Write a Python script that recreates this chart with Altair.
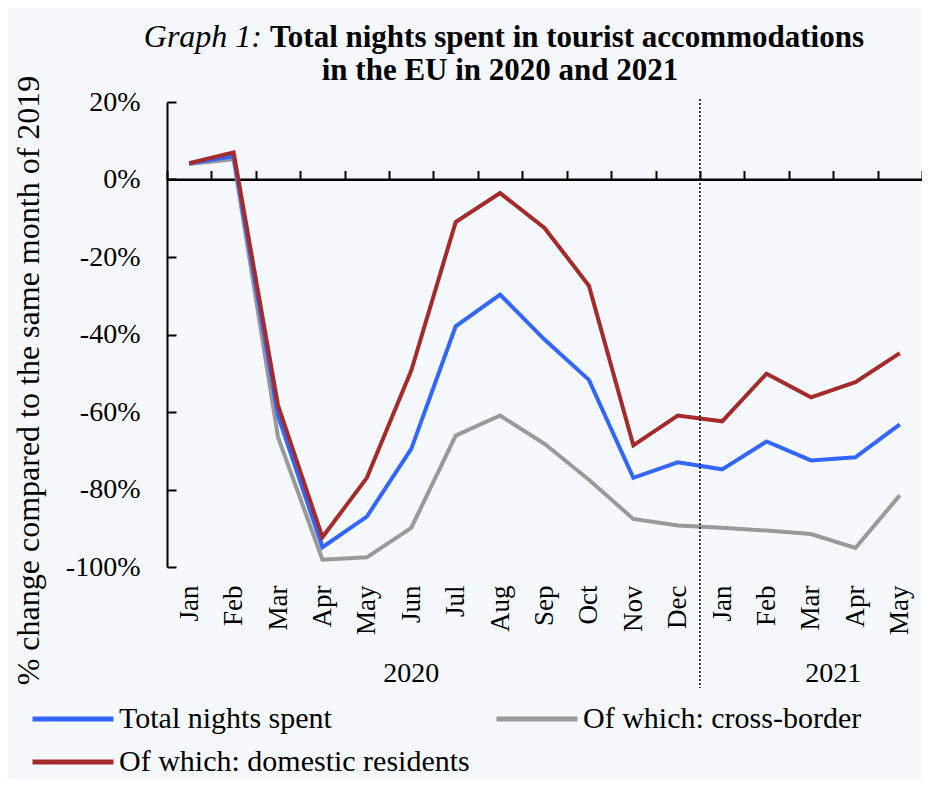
import json
import altair as alt
import pandas as pd

# ---------------- data ----------------
months = ["Jan", "Feb", "Mar", "Apr", "May", "Jun", "Jul", "Aug", "Sep", "Oct", "Nov", "Dec",
          "Jan", "Feb", "Mar", "Apr", "May"]
month_years = ["2020"] * 12 + ["2021"] * 5
years = ["2020", "2021"]
year_label_pos = [5.0, 14.5]

series_names = ["Total nights spent", "Of which: cross-border", "Of which: domestic residents"]
total = [4.2, 6.0, -61.0, -94.9, -87.0, -69.5, -37.9, -29.7, -41.3, -51.7, -77.0, -73.0,
         -74.8, -67.6, -72.5, -71.7, -63.2]
cross_border = [4.0, 5.2, -66.5, -98.1, -97.5, -89.9, -66.1, -60.9, -68.2, -77.5, -87.6, -89.3,
                -89.9, -90.6, -91.5, -95.1, -81.5]
domestic = [4.2, 7.0, -58.3, -92.3, -77.0, -49.3, -11.0, -3.5, -12.5, -27.4, -68.6, -60.9,
            -62.4, -50.1, -56.2, -52.3, -44.8]

y_ticks = [-100, -80, -60, -40, -20, 0, 20]
title_italic = "Graph 1:"
title_line1 = "Total nights spent in tourist accommodations"
title_line2 = "in the EU in 2020 and 2021"
y_title = "% change compared to the same month of 2019"

colors = ["#3366ff", "#999999", "#a52a2a"]

# ---------------- layout ----------------
W, H = 755, 465
FONT = "Liberation Serif"
N = len(months)

rows = []
for name, vals in [(series_names[1], cross_border), (series_names[0], total), (series_names[2], domestic)]:
    for i, v in enumerate(vals):
        rows.append({"idx": i, "value": v, "series": name})
df = pd.DataFrame(rows)

xscale = alt.Scale(domain=[-0.5, N - 0.5], nice=False, zero=False)
yscale = alt.Scale(domain=[-100, 20], nice=False, zero=False)
label_expr = json.dumps(months) + "[datum.value]"

lines = alt.Chart(df).mark_line(strokeWidth=4, strokeJoin="miter").encode(
    x=alt.X("idx:Q", scale=xscale, axis=alt.Axis(
        orient="bottom", values=list(range(N)), labelExpr=label_expr, labelAngle=270,
        labelAlign="right", labelBaseline="middle", labelFont=FONT, labelFontSize=27,
        labelColor="black", labelPadding=18, ticks=False, tickSize=0, domain=False,
        grid=False, title=None)),
    y=alt.Y("value:Q", scale=yscale, axis=alt.Axis(
        orient="left", values=y_ticks, labelExpr="datum.value + '%'", labelFont=FONT,
        labelFontSize=28, labelColor="black", labelPadding=27, ticks=False, tickSize=0,
        domain=False, grid=False, title=y_title, titleFont=FONT, titleFontSize=32,
        titleFontWeight="normal", titleColor="black", titleAngle=270, titleAlign="center",
        titleBaseline="middle", titleX=-139, titleY=278)),
    color=alt.Color("series:N", scale=alt.Scale(domain=series_names, range=colors),
                    legend=alt.Legend(
                        orient="none", legendX=-110, legendY=601, columns=2,
                        direction="horizontal", title=None,
                        symbolType="M-3,0H3", symbolSize=729, symbolStrokeWidth=5,
                        labelFont=FONT, labelFontSize=30, labelColor="black", labelLimit=0,
                        labelOffset=30, rowPadding=12, columnPadding=16, padding=0)),
)

zero_df = pd.DataFrame({"z": [0]})
zero = alt.Chart(zero_df).mark_rule(color="black", strokeWidth=2).encode(
    y=alt.Y("z:Q", scale=yscale, axis=alt.Axis(
        orient="right", offset=-W, values=y_ticks, labels=False, ticks=True, tickSize=9,
        tickWidth=2, tickColor="black", domain=True, domainColor="black", domainWidth=2,
        grid=False, title=None)),
)

boundaries = [i - 0.5 for i in range(N + 1)]
bdf = pd.DataFrame({"b": boundaries})
xtop = alt.Chart(bdf).mark_point(opacity=0).encode(
    x=alt.X("b:Q", scale=xscale, axis=alt.Axis(
        orient="top", offset=-H * 20 / 120, values=boundaries, labels=False, ticks=True,
        tickSize=9, tickWidth=2, tickColor="black", domain=True, domainColor="black",
        domainWidth=2, grid=False, title=None)),
    y=alt.value(0),
)

sep = month_years.index("2021") - 0.5
sep_df = pd.DataFrame({"s": [sep]})
sep_rule = alt.Chart(sep_df).mark_rule(color="black", strokeWidth=1.5, strokeDash=[2, 2]).encode(
    x=alt.X("s:Q", scale=xscale, axis=None),
    y=alt.value(-3),
    y2=alt.value(586),
)

ydf = pd.DataFrame({"year": years, "pos": year_label_pos})
year_text = alt.Chart(ydf).mark_text(font=FONT, fontSize=28, color="black", baseline="middle").encode(
    x=alt.X("pos:Q", scale=xscale, axis=None),
    y=alt.value(572),
    text="year:N",
)

t_it = alt.Chart(pd.DataFrame({"t": [title_italic]})).mark_text(
    font=FONT, fontSize=32, fontStyle="italic", color="black", align="right",
    baseline="alphabetic").encode(x=alt.value(95), y=alt.value(-55), text="t:N")
t_l1 = alt.Chart(pd.DataFrame({"t": [title_line1]})).mark_text(
    font=FONT, fontSize=31, fontWeight="bold", color="black", align="left",
    baseline="alphabetic").encode(x=alt.value(103), y=alt.value(-55), text="t:N")
t_l2 = alt.Chart(pd.DataFrame({"t": [title_line2]})).mark_text(
    font=FONT, fontSize=31, fontWeight="bold", color="black", align="center",
    baseline="alphabetic").encode(x=alt.value(333), y=alt.value(-22), text="t:N")

chart = alt.layer(xtop, zero, lines, sep_rule, year_text, t_it, t_l1, t_l2).resolve_axis(
    x="independent", y="independent"
).properties(
    width=W, height=H,
    autosize=alt.AutoSizeParams(type="none"),
    padding={"left": 159, "top": 94, "right": 0, "bottom": 212},
    background="#f5f9fd",
).configure_view(stroke=None)

chart.save("out.html", embed_options={"renderer": "svg", "actions": False})
